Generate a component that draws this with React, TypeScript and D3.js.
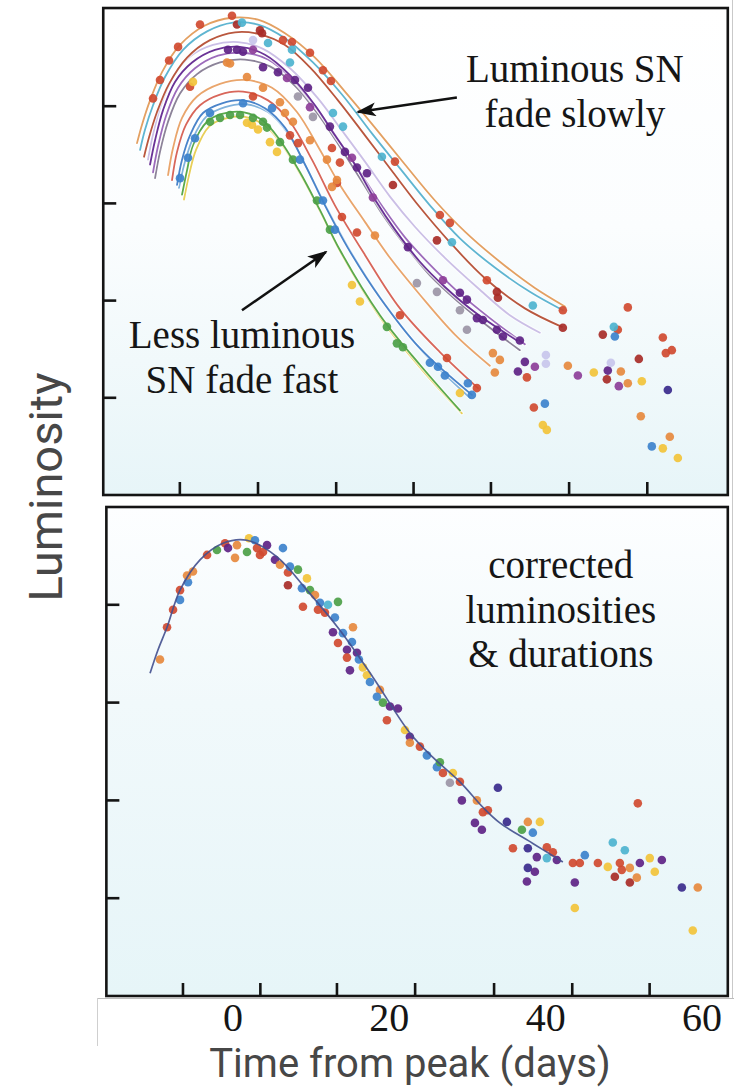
import React from 'react';
import * as d3 from 'd3';

// ---------- axis values ----------
const X_LABELS = [0, 20, 40, 60];
const X_TICKS_TOP = [-6.8, 3.2, 13.2, 23.1, 33.0, 43.0, 53.0];
const X_TICKS_BOTTOM = [-6.4, 3.5, 13.3, 23.3, 33.4, 43.4, 53.3];
const Y_TICKS = [1, 2, 3, 4];

// ---------- top panel: fitted light curves [day, luminosity] ----------
const curveOrangeOuter = [[-12.28,3.62],[-11.64,3.81],[-10.61,4.06],[-9.08,4.35],[-6.78,4.63],[-3.58,4.83],[-0.13,4.91],[3.2,4.89],[6.65,4.75],[10.49,4.5],[14.32,4.15],[18.16,3.78],[22.0,3.4],[25.83,3.03],[29.67,2.71],[34.14,2.4],[38.62,2.13],[42.46,1.94]];
const curveCyan = [[-11.89,3.55],[-11.25,3.76],[-10.23,4.01],[-8.7,4.3],[-6.39,4.58],[-3.32,4.77],[0,4.86],[3.2,4.84],[6.65,4.7],[10.23,4.45],[13.94,4.12],[17.77,3.72],[21.36,3.36],[25.19,2.98],[29.03,2.64],[33.5,2.34],[37.98,2.09],[42.2,1.9]];
const curveBrown = [[-11.38,3.48],[-10.74,3.68],[-9.72,3.94],[-8.18,4.23],[-5.88,4.5],[-2.94,4.68],[0.26,4.76],[3.45,4.74],[6.65,4.63],[9.85,4.4],[13.43,4.06],[16.88,3.7],[20.46,3.32],[23.91,2.96],[27.75,2.6],[32.23,2.23],[37.34,1.92],[42.07,1.73]];
const curvePurple = [[-10.61,3.4],[-9.97,3.65],[-8.95,3.96],[-7.42,4.25],[-5.24,4.45],[-2.3,4.58],[0.9,4.61],[4.09,4.53],[7.29,4.32],[10.49,4.01],[13.04,3.7],[15.6,3.4],[18.16,3.04],[20.72,2.73],[23.91,2.4],[27.11,2.14],[30.95,1.88],[36.32,1.59]];
const curveViolet = [[-10.23,3.32],[-9.59,3.59],[-8.57,3.9],[-7.03,4.19],[-4.86,4.39],[-1.92,4.52],[1.28,4.55],[4.48,4.48],[7.67,4.27],[10.87,3.96],[13.68,3.63],[16.5,3.29],[19.18,2.96],[22.0,2.65],[25.19,2.37],[28.77,2.09],[32.86,1.82],[37.34,1.55]];
const curveLavender = [[-10.87,3.45],[-10.23,3.71],[-9.21,4.01],[-7.67,4.3],[-5.5,4.51],[-2.56,4.63],[0.64,4.66],[3.84,4.59],[7.29,4.39],[10.87,4.08],[13.94,3.75],[16.88,3.43],[20.08,3.07],[23.27,2.76],[27.11,2.44],[31.33,2.13],[35.42,1.85],[39.26,1.67]];
const curveGrey = [[-9.97,3.26],[-9.34,3.53],[-8.31,3.84],[-6.78,4.13],[-4.6,4.33],[-1.66,4.45],[1.53,4.48],[4.73,4.41],[7.93,4.21],[11.13,3.89],[13.94,3.55],[16.62,3.21],[19.18,2.88],[22.0,2.57],[25.19,2.26],[28.77,1.99],[32.86,1.72],[36.7,1.49]];
const curveOrange = [[-8.31,3.29],[-7.67,3.57],[-6.52,3.88],[-4.6,4.1],[-1.66,4.23],[1.53,4.27],[4.99,4.19],[8.18,3.94],[11.13,3.55],[13.68,3.19],[16.88,2.81],[20.08,2.44],[23.91,2.06],[28.39,1.65],[32.86,1.33]];
const curveRed = [[-7.8,3.24],[-7.16,3.53],[-6.01,3.81],[-4.22,4.01],[-1.66,4.12],[1.28,4.15],[4.48,4.06],[7.29,3.84],[10.1,3.45],[13.04,2.98],[16.88,2.47],[21.36,1.92],[26.47,1.47],[31.33,1.1]];
const curveBlue = [[-7.16,3.19],[-6.52,3.45],[-5.5,3.7],[-3.84,3.93],[-1.41,4.03],[1.28,4.06],[4.09,3.98],[6.65,3.78],[9.21,3.4],[11.76,2.98],[14.71,2.54],[18.8,2.03],[23.91,1.51],[30.56,1.03]];
const curveBlueLight = [[-6.91,3.16],[-6.14,3.43],[-5.12,3.67],[-3.45,3.89],[-1.02,3.99],[1.66,4.02],[4.48,3.94],[7.03,3.72],[9.59,3.34],[12.15,2.93],[15.09,2.5],[19.18,1.99],[24.3,1.47],[30.31,1.0]];
const curveGreen = [[-6.52,3.09],[-5.88,3.34],[-5.12,3.6],[-3.32,3.84],[-1.41,3.92],[1.28,3.94],[3.84,3.85],[6.01,3.65],[8.57,3.32],[11.13,2.93],[13.68,2.52],[18.8,1.85],[23.91,1.34],[29.03,0.87]];
const curveYellow = [[-6.27,3.04],[-5.63,3.29],[-4.73,3.55],[-3.07,3.79],[-1.15,3.87],[1.53,3.89],[4.09,3.8],[6.27,3.6],[8.82,3.27],[11.38,2.88],[13.94,2.47],[19.05,1.8],[24.17,1.29],[29.28,0.84]];

// ---------- top panel: observations [day, luminosity, colour] ----------
const topPoints: [number, number, string][] = [
  [-10.23,4.08,'red'],[-9.34,4.27,'red'],[-8.18,4.47,'red'],[-7.03,4.61,'red'],[-4.22,4.84,'red'],[-0.13,4.93,'red'],[0.51,4.84,'darkred'],[3.45,4.78,'darkred'],[3.71,4.75,'darkred'],[6.39,4.68,'red'],[7.54,4.66,'red'],[9.85,4.55,'red'],[11.51,4.37,'red'],[12.53,4.26,'red'],[-5.5,4.2,'red'],[20.46,3.19,'darkred'],[20.72,3.43,'red'],[26.47,2.88,'red'],[27.75,2.8,'red'],[26.09,2.62,'darkred'],[32.48,2.21,'red'],[33.76,2.09,'darkred'],[33.89,2.03,'darkred'],[42.2,1.9,'red'],[42.2,1.72,'darkred'],
  [2.56,4.1,'red'],[7.29,3.7,'red'],[8.31,3.62,'red'],[13.3,3.21,'red'],[13.94,2.86,'red'],[15.86,2.7,'red'],[21.36,1.85,'red'],[27.37,1.41,'red'],[31.2,1.1,'red'],[12.66,3.57,'red'],[13.68,3.42,'red'],
  [37.6,1.21,'red'],[38.49,0.9,'red'],[47.31,1.65,'darkred'],[49.23,1.7,'red'],[50.51,1.93,'red'],[51.92,1.4,'darkred'],[47.83,1.19,'darkred'],[54.99,1.62,'red'],[55.37,1.46,'red'],[56.14,1.49,'red'],
  [-0.77,4.45,'orange'],[-0.38,4.44,'orange'],[1.79,4.3,'orange'],[3.84,4.19,'orange'],[6.01,4.04,'orange'],[6.65,3.93,'orange'],[7.67,3.84,'orange'],[9.85,3.65,'orange'],[12.02,3.45,'orange'],[13.3,3.24,'orange'],[12.66,3.17,'orange'],[18.16,2.67,'orange'],[33.25,1.46,'orange'],[34.14,1.39,'orange'],[33.5,1.26,'orange'],[42.84,1.33,'orange'],[49.62,1.27,'orange'],[50.51,1.15,'orange'],[52.17,0.81,'orange'],[55.88,0.6,'orange'],
  [-5.12,4.25,'yellow'],[1.79,3.83,'yellow'],[2.43,3.81,'yellow'],[3.2,3.76,'yellow'],[4.73,3.63,'yellow'],[5.63,3.53,'yellow'],[15.22,2.16,'yellow'],[16.24,1.99,'yellow'],[29.03,1.05,'yellow'],[46.16,1.26,'yellow'],[52.3,1.17,'yellow'],[39.64,0.72,'yellow'],[40.15,0.67,'yellow'],[54.99,0.48,'yellow'],[56.91,0.38,'yellow'],
  [-2.94,3.84,'green'],[-1.66,3.88,'green'],[-0.38,3.91,'green'],[0.9,3.91,'green'],[2.56,3.88,'green'],[3.84,3.84,'green'],[4.35,3.78,'green'],[6.01,3.63,'green'],[7.67,3.45,'green'],[10.74,3.03,'green'],[12.4,2.73,'green'],[19.69,1.73,'green'],[20.97,1.56,'green'],[21.74,1.52,'green'],
  [-6.78,3.26,'blue'],[-5.76,3.47,'blue'],[-4.86,3.67,'blue'],[-2.94,3.93,'blue'],[1.28,4.03,'blue'],[4.99,3.98,'blue'],[8.57,3.45,'blue'],[11.51,3.03,'blue'],[13.04,2.73,'blue'],[25.19,1.36,'blue'],[26.22,1.32,'blue'],[27.11,1.23,'blue'],[30.05,1.15,'blue'],[30.56,1.03,'blue'],[39.9,0.94,'blue'],[53.58,0.5,'blue'],
  [1.15,4.86,'cyan'],[4.48,4.65,'cyan'],[7.54,4.58,'cyan'],[7.29,4.45,'cyan'],[12.79,3.93,'cyan'],[14.07,3.79,'cyan'],[19.05,3.48,'cyan'],[28.01,2.6,'cyan'],[38.36,1.95,'cyan'],[48.72,1.73,'cyan'],[48.85,1.63,'blue'],
  [-0.64,4.58,'purple'],[0.51,4.58,'purple'],[1.28,4.56,'purple'],[2.56,4.58,'violet'],[3.84,4.4,'purple'],[5.75,4.35,'purple'],[6.91,4.29,'violet'],[7.93,4.27,'purple'],[9.59,4.19,'purple'],[9.85,3.99,'violet'],[12.4,3.79,'purple'],[14.32,3.53,'purple'],[15.22,3.47,'violet'],[15.86,3.37,'purple'],[17.14,3.31,'purple'],[17.9,3.06,'violet'],[22.38,2.55,'purple'],[26.86,2.21,'violet'],[29.03,2.08,'purple'],[29.93,2.01,'purple'],[31.2,1.82,'purple'],[31.97,1.8,'purple'],[33.76,1.7,'purple'],[34.53,1.63,'purple'],[36.7,1.59,'purple'],[37.34,1.37,'purple'],[36.45,1.27,'purple'],[38.62,1.32,'violet'],[44.12,1.23,'violet'],[47.95,1.28,'purple'],[49.36,1.12,'violet'],[55.63,1.08,'navy'],
  [8.31,4.1,'grey'],[10.23,3.89,'grey'],[23.53,2.18,'grey'],[26.09,2.09,'grey'],[29.03,1.9,'grey'],[29.93,1.7,'grey'],
  [40.03,1.44,'lavender'],[40.03,1.35,'lavender'],[48.34,1.36,'lavender'],[2.56,4.68,'lavender'],
];

// ---------- bottom panel: template curve and corrected observations ----------
const templateCurve = [[-10.61,3.3],[-9.59,3.54],[-8.44,3.77],[-6.78,4.15],[-4.22,4.46],[-1.28,4.63],[1.79,4.66],[5.63,4.49],[9.46,4.15],[13.68,3.74],[17.9,3.26],[22.63,2.69],[25.58,2.44],[29.03,2.19],[31.97,1.93],[34.14,1.77],[38.36,1.56],[42.2,1.37]];

const bottomPoints: [number, number, string][] = [
  [-9.34,3.44,'orange'],[-8.44,3.77,'red'],[-7.67,3.95,'red'],[-6.78,4.05,'blue'],[-6.78,4.15,'red'],[-5.76,4.23,'blue'],[-5.88,4.3,'orange'],[-5.12,4.34,'orange'],[-3.32,4.51,'red'],[-2.05,4.56,'green'],[-1.02,4.63,'red'],[-0.64,4.58,'purple'],[0.26,4.48,'orange'],[0.51,4.61,'orange'],[1.79,4.54,'green'],[2.05,4.68,'yellow'],[2.81,4.66,'blue'],[3.07,4.58,'red'],[3.45,4.51,'red'],[3.84,4.54,'red'],[4.35,4.61,'purple'],[5.37,4.46,'purple'],[6.39,4.58,'blue'],[6.01,4.41,'orange'],[7.03,4.33,'red'],[7.29,4.39,'blue'],[8.31,4.36,'green'],[7.03,4.2,'darkred'],[9.46,4.27,'yellow'],[8.82,4.17,'blue'],[9.85,4.15,'green'],[8.95,3.98,'red'],[10.49,4.1,'orange'],[11.13,4.02,'blue'],[10.87,3.95,'red'],[11.76,3.92,'red'],[13.43,4.03,'green'],[12.15,4.0,'cyan'],[13.04,3.87,'blue'],[12.79,3.72,'purple'],[14.07,3.71,'blue'],[13.43,3.61,'red'],[15.35,3.77,'orange'],[14.58,3.54,'purple'],[15.22,3.62,'blue'],[15.86,3.51,'purple'],[14.58,3.46,'red'],[16.11,3.44,'blue'],[14.96,3.33,'purple'],[16.62,3.36,'yellow'],[17.14,3.28,'yellow'],[17.52,3.21,'blue'],[18.8,3.13,'orange'],[18.41,3.06,'blue'],[19.18,3.0,'green'],[20.08,2.96,'purple'],[21.1,2.94,'purple'],[19.69,2.82,'red'],[22.0,2.72,'yellow'],[22.63,2.65,'purple'],[22.63,2.59,'orange'],[23.91,2.55,'red'],[24.81,2.46,'blue'],[26.09,2.34,'blue'],[26.47,2.39,'green'],[26.86,2.28,'red'],[28.13,2.28,'yellow'],[27.75,2.18,'grey'],[29.03,2.19,'red'],[29.28,2.0,'purple'],[31.2,2.0,'orange'],[33.89,2.13,'navy'],[30.95,1.77,'purple'],[31.84,1.7,'purple'],[31.97,1.88,'red'],[32.61,1.9,'red'],[35.04,1.78,'navy'],[36.96,1.7,'green'],[37.72,1.78,'orange'],[39.26,1.78,'yellow'],[38.36,1.67,'blue'],[35.81,1.51,'red'],[37.72,1.51,'navy'],[38.87,1.42,'purple'],[40.15,1.52,'red'],[40.92,1.47,'red'],[40.15,1.41,'cyan'],[41.43,1.39,'purple'],[37.72,1.31,'navy'],[38.62,1.27,'purple'],[37.6,1.17,'purple'],[43.48,1.36,'red'],[44.37,1.36,'red'],[45.01,1.44,'blue'],[46.68,1.36,'red'],[47.95,1.32,'yellow'],[48.59,1.57,'cyan'],[50.13,1.49,'cyan'],[49.49,1.36,'red'],[49.74,1.29,'red'],[48.85,1.22,'darkred'],[50.77,1.31,'orange'],[50.77,1.16,'darkred'],[51.66,1.21,'orange'],[52.05,1.36,'purple'],[53.32,1.41,'yellow'],[53.96,1.27,'yellow'],[54.86,1.39,'purple'],[51.79,1.97,'red'],[43.73,1.16,'purple'],[43.73,0.9,'yellow'],[57.42,1.11,'navy'],[59.46,1.11,'orange'],[58.82,0.67,'yellow'],
];

// ---------- annotations ----------
const noteTop = ['Luminous SN', 'fade slowly'];
const noteLow = ['Less luminous', 'SN fade fast'];
const noteBottom = ['corrected', 'luminosities', '& durations'];

const POINT_COLORS: Record<string, string> = {
  red: '#d04a30', darkred: '#a82c28', orange: '#e6893e', yellow: '#f2c33a', green: '#4c9f48',
  blue: '#3d82cc', cyan: '#4db3cf', purple: '#5e2386', violet: '#8d3e99', navy: '#3a2a8c',
  lavender: '#c8c6ec', grey: '#9b95a6',
};

const SERIF = "'Liberation Serif', 'Times New Roman', serif";
const SANS = "Roboto, 'Noto Sans', sans-serif";

export default function App() {
  const x = d3.scaleLinear().domain([0, 60]).range([233, 702]);
  const yT = d3.scaleLinear().domain([0, 5]).range([495, 9]);
  const yB = d3.scaleLinear().domain([0, 5]).range([996, 507]);

  const lineT = d3.line<number[]>().x(d => x(d[0])).y(d => yT(d[1])).curve(d3.curveCatmullRom.alpha(0.5));
  const lineB = d3.line<number[]>().x(d => x(d[0])).y(d => yB(d[1])).curve(d3.curveCatmullRom.alpha(0.5));

  const topCurves: { pts: number[][]; color: string }[] = [
    { pts: curveLavender, color: '#cbbfe6' },
    { pts: curveGrey, color: '#8c8399' },
    { pts: curveViolet, color: '#9c6bbb' },
    { pts: curvePurple, color: '#6a3296' },
    { pts: curveYellow, color: '#e8cf58' },
    { pts: curveGreen, color: '#5aa94c' },
    { pts: curveBlueLight, color: '#80b2dc' },
    { pts: curveBlue, color: '#4a84ca' },
    { pts: curveRed, color: '#d8665a' },
    { pts: curveOrange, color: '#e9a56c' },
    { pts: curveBrown, color: '#b9573e' },
    { pts: curveCyan, color: '#5fb5d1' },
    { pts: curveOrangeOuter, color: '#e3a062' },
  ];

  const topFrame = { x0: x(-16.6), x1: x(63.3), y0: yT(5.01), y1: yT(0) };
  const botFrame = { x0: x(-16.2), x1: x(63.3), y0: yB(5.0), y1: yB(0) };
  const tickLen = 13;

  const serifText = { fontFamily: SERIF, fontSize: 39, fill: '#161616' } as const;

  return (
    <svg width={734} height={1088} style={{ position: 'absolute', left: 0, top: 0, background: '#fff' }}
      xmlns="http://www.w3.org/2000/svg">
      <defs>
        <linearGradient id="bgTop" x1="0" y1="0" x2="0" y2="1">
          <stop offset="0%" stopColor="#ffffff" />
          <stop offset="45%" stopColor="#fbfdfe" />
          <stop offset="100%" stopColor="#e7f5f8" />
        </linearGradient>
        <linearGradient id="bgBot" x1="0" y1="0" x2="0" y2="1">
          <stop offset="0%" stopColor="#fdfeff" />
          <stop offset="40%" stopColor="#f1f9fb" />
          <stop offset="100%" stopColor="#e6f5f8" />
        </linearGradient>
        <marker id="arrowHead" markerUnits="userSpaceOnUse" markerWidth="20" markerHeight="14"
          refX="18" refY="7" orient="auto">
          <path d="M0,0 L20,7 L0,14 L5,7 Z" fill="#111" />
        </marker>
      </defs>

      <line x1={732.5} y1={0} x2={732.5} y2={998} stroke="#c9c9c9" strokeWidth={1} />
      <line x1={97.5} y1={998.5} x2={734} y2={998.5} stroke="#bdbdbd" strokeWidth={1} />
      <line x1={97.5} y1={998} x2={97.5} y2={1046} stroke="#cfcfcf" strokeWidth={1} />

      {/* ---------- top panel ---------- */}
      <rect x={topFrame.x0} y={topFrame.y0} width={topFrame.x1 - topFrame.x0} height={topFrame.y1 - topFrame.y0} fill="url(#bgTop)" />
      <g fill="none" strokeLinecap="round">
        {topCurves.map((c, i) => (
          <g key={i}>
            <path d={lineT(c.pts) || ''} stroke="#ffffff" strokeOpacity={0.6} strokeWidth={4} />
            <path d={lineT(c.pts) || ''} stroke={c.color} strokeWidth={1.8} />
          </g>
        ))}
      </g>
      <g>
        {topPoints.map((p, i) => (
          <circle key={i} cx={x(p[0])} cy={yT(p[1])} r={4.3} fill={POINT_COLORS[p[2]]} fillOpacity={0.92} />
        ))}
      </g>
      <rect x={topFrame.x0} y={topFrame.y0} width={topFrame.x1 - topFrame.x0} height={topFrame.y1 - topFrame.y0}
        fill="none" stroke="#141414" strokeWidth={2.6} />
      <g stroke="#141414" strokeWidth={2.6}>
        {X_TICKS_TOP.map((t, i) => (
          <line key={'xt' + i} x1={x(t)} x2={x(t)} y1={topFrame.y1} y2={topFrame.y1 - tickLen} />
        ))}
        {Y_TICKS.map((t, i) => (
          <line key={'yt' + i} x1={topFrame.x0} x2={topFrame.x0 + tickLen} y1={yT(t)} y2={yT(t)} />
        ))}
      </g>

      <line x1={x(28.64)} y1={yT(4.09)} x2={x(15.98)} y2={yT(3.94)} stroke="#111" strokeWidth={2.5} markerEnd="url(#arrowHead)" />
      <line x1={x(1.15)} y1={yT(1.9)} x2={x(11.89)} y2={yT(2.5)} stroke="#111" strokeWidth={2.5} markerEnd="url(#arrowHead)" />
      <text x={x(43.73)} y={yT(4.25)} textAnchor="middle" {...serifText}>
        {noteTop.map((t, i) => <tspan key={i} x={x(43.73)} dy={i === 0 ? 0 : 45}>{t}</tspan>)}
      </text>
      <text x={x(1.15)} y={yT(1.51)} textAnchor="middle" {...serifText}>
        {noteLow.map((t, i) => <tspan key={i} x={x(1.15)} dy={i === 0 ? 0 : 45}>{t}</tspan>)}
      </text>

      {/* ---------- bottom panel ---------- */}
      <rect x={botFrame.x0} y={botFrame.y0} width={botFrame.x1 - botFrame.x0} height={botFrame.y1 - botFrame.y0} fill="url(#bgBot)" />
      <g>
        {bottomPoints.map((p, i) => (
          <circle key={i} cx={x(p[0])} cy={yB(p[1])} r={4.3} fill={POINT_COLORS[p[2]]} fillOpacity={0.92} />
        ))}
      </g>
      <path d={lineB(templateCurve) || ''} fill="none" stroke="#434f8e" strokeWidth={1.7} strokeOpacity={0.9} />
      <rect x={botFrame.x0} y={botFrame.y0} width={botFrame.x1 - botFrame.x0} height={botFrame.y1 - botFrame.y0}
        fill="none" stroke="#141414" strokeWidth={2.6} />
      <g stroke="#141414" strokeWidth={2.6}>
        {X_TICKS_BOTTOM.map((t, i) => (
          <line key={'bxt' + i} x1={x(t)} x2={x(t)} y1={botFrame.y1} y2={botFrame.y1 - tickLen} />
        ))}
        {Y_TICKS.map((t, i) => (
          <line key={'byt' + i} x1={botFrame.x0} x2={botFrame.x0 + tickLen} y1={yB(t)} y2={yB(t)} />
        ))}
      </g>
      <text x={x(41.94)} y={yB(4.27)} textAnchor="middle" {...serifText}>
        {noteBottom.map((t, i) => <tspan key={i} x={x(41.94)} dy={i === 0 ? 0 : 44.5}>{t}</tspan>)}
      </text>

      {X_LABELS.map((v, i) => (
        <text key={'xl' + i} x={x(v)} y={1031} textAnchor="middle" fontFamily={SERIF} fontSize={40} fill="#151515">{v}</text>
      ))}

      <text x={410} y={1077} textAnchor="middle" fontFamily={SANS} fontSize={40} fill="#474747">Time from peak (days)</text>
      <text transform="translate(62,487) rotate(-90)" textAnchor="middle" fontFamily={SANS} fontSize={47} fill="#474747">Luminosity</text>
    </svg>
  );
}
